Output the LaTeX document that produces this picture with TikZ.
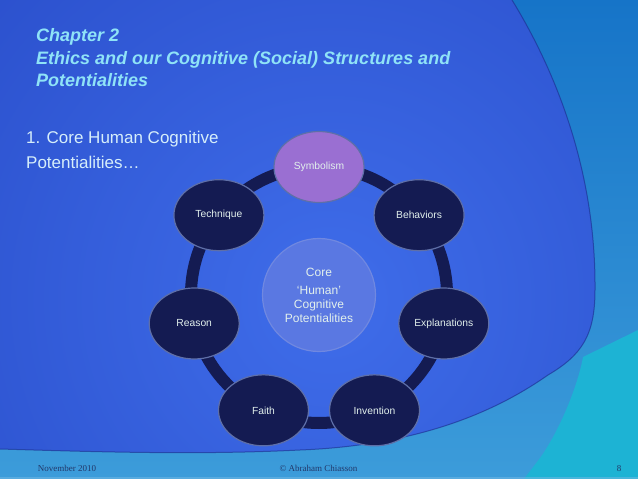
\documentclass[tikz,border=0pt]{standalone}
\usepackage{fontspec}
\setmainfont{Liberation Sans}
\newfontfamily\footfont{Liberation Serif}
\usetikzlibrary{shapes.geometric,calc}
\definecolor{bgdark}{HTML}{1936B2}
\definecolor{bgmid}{HTML}{3F6DEA}
\definecolor{lighttop}{HTML}{1674C8}
\definecolor{lightbot}{HTML}{3C9CDA}
\definecolor{cyanband}{HTML}{1DB3D4}
\definecolor{navy}{HTML}{141B52}
\definecolor{nodeedge}{HTML}{5E6FA8}
\definecolor{purplenode}{HTML}{9A6FD2}
\definecolor{corefill}{HTML}{5A78E2}
\definecolor{coreedge}{HTML}{7088E0}
\definecolor{titlecol}{HTML}{8FE3F7}
\definecolor{subcol}{HTML}{D6EEFA}
\definecolor{labelcol}{HTML}{E2F0EC}
\definecolor{footcol}{HTML}{22386A}
\definecolor{darkedge}{HTML}{1A2C8C}
\begin{document}
\begin{tikzpicture}[x=1pt,y=-1pt,
  ringnode/.style={ellipse, draw=nodeedge, line width=1.2pt, fill=navy,
    minimum width=90pt, minimum height=71pt, inner sep=0pt, text=labelcol,
    font=\fontsize{10.3}{12}\selectfont},
  corenode/.style={circle, draw=coreedge, line width=1.2pt, fill=corefill,
    minimum size=113pt, inner sep=0pt, text=labelcol, align=center,
    font=\fontsize{12}{14}\selectfont},
  ringline/.style={draw=navy, line width=12pt},
  ringbend/.style={bend left=25.7, looseness=0.9},
  titletext/.style={anchor=base west, inner sep=0pt, text=titlecol,
    font=\fontsize{18}{22}\selectfont\bfseries\itshape},
  subtext/.style={anchor=base west, inner sep=0pt, text=subcol,
    font=\fontsize{17}{20}\selectfont},
  foottext/.style={anchor=base, inner sep=0pt, text=footcol,
    font=\fontsize{9}{10}\selectfont\footfont}]
\useasboundingbox (0,0) rectangle (638,479);
% background
\shade[top color=lighttop, bottom color=lightbot] (0,0) rectangle (638,479);
\fill[cyanband] (638,330) -- (583,357) .. controls (578,385) and (560,430) .. (540,458)
  -- (524,479) -- (638,479) -- cycle;
\begin{scope}
  \clip (0,0) -- (512,0) .. controls (555,70) and (596,170) .. (595,290)
    .. controls (595,335) and (582,355) .. (548,375)
    .. controls (505,405) and (430,445) .. (300,450)
    .. controls (200,455) and (100,452) .. (0,449) -- cycle;
  \shade[inner color=bgmid, outer color=bgdark] (330,300) circle[radius=900pt];
\end{scope}
\draw[darkedge, line width=1pt, opacity=0.6] (512,0) .. controls (555,70) and (596,170) .. (595,290)
    .. controls (595,335) and (582,355) .. (548,375)
    .. controls (505,405) and (430,445) .. (300,450)
    .. controls (200,455) and (100,452) .. (0,449);
\fill[lightbot!70!white, opacity=0.5] (0,476.5) rectangle (638,479);

% title
\node[titletext] (t1) at (36,41.5) {Chapter 2};
\node[titletext] (t2) at (36,64) {Ethics and our Cognitive (Social) Structures and};
\node[titletext] (t3) at (36,86.5) {Potentialities};
\node[subtext] (s1) at (26,143.3) {1. Core Human Cognitive};
\node[subtext] (s2) at (26,168.3) {Potentialities…};

% cycle
\coordinate (ctr) at (319,295);
\coordinate (cS) at ($(ctr)+(90:128pt)$);
\coordinate (cB) at ($(ctr)+(38.57:128pt)$);
\coordinate (cE) at ($(ctr)+(-12.86:128pt)$);
\coordinate (cI) at ($(ctr)+(-64.29:128pt)$);
\coordinate (cF) at ($(ctr)+(-115.71:128pt)$);
\coordinate (cR) at ($(ctr)+(-167.14:128pt)$);
\coordinate (cT) at ($(ctr)+(141.43:128pt)$);
\draw[ringline] (cS) to[ringbend] (cB) to[ringbend] (cE) to[ringbend] (cI)
  to[ringbend] (cF) to[ringbend] (cR) to[ringbend] (cT) to[ringbend] (cS);

\node[ringnode, fill=purplenode] (sym) at (cS) {Symbolism};
\node[ringnode] (beh) at (cB) {Behaviors};
\node[ringnode] (exp) at (cE) {Explanations};
\node[ringnode] (inv) at (cI) {Invention};
\node[ringnode] (fai) at (cF) {Faith};
\node[ringnode] (rea) at (cR) {Reason};
\node[ringnode] (tec) at (cT) {Technique};
\node[corenode] (core) at (ctr) {Core\\[4pt]‘Human’\\Cognitive\\Potentialities};

% footer
\node[foottext] (f1) at (67,471) {November 2010};
\node[foottext] (f2) at (318.5,471) {© Abraham Chiasson};
\node[foottext] (f3) at (619,471) {8};
\end{tikzpicture}
\end{document}
